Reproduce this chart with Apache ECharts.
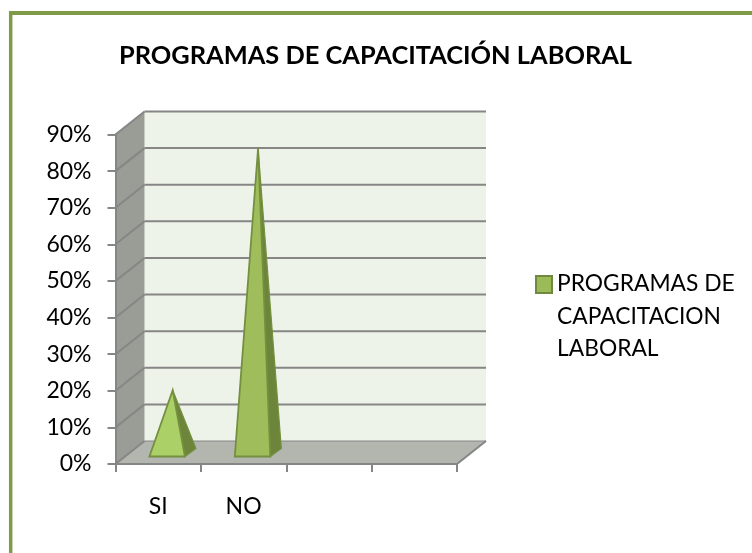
<!DOCTYPE html>
<html>
<head>
<meta charset="utf-8">
<style>html,body{margin:0;padding:0;background:#fff}#c{width:752px;height:553px}</style>
<script src="https://cdn.jsdelivr.net/npm/echarts@6/dist/echarts.min.js"></script>
</head>
<body>
<div id="c"></div>
<script>
var titleText = 'PROGRAMAS DE CAPACITACIÓN LABORAL';
var seriesName = 'PROGRAMAS DE\nCAPACITACION\nLABORAL';
var categories = ['SI', 'NO', '', ''];
var values = [0.17, 0.83];
var yTicks = [0, 0.1, 0.2, 0.3, 0.4, 0.5, 0.6, 0.7, 0.8, 0.9];

var FONT = 'Lato, "Open Sans", sans-serif';
var DX = 29, DY = -23;
var GRID = '#868686';
var FRONT = ['#ABD067', '#9FBE5B'];
var SIDE = '#6C853A', EDGE = '#74903F';

function poly(points, fill, stroke, lw) {
  return { type: 'polygon', shape: { points: points },
    style: { fill: fill, stroke: stroke || null, lineWidth: lw || 0 } };
}
function line(x1, y1, x2, y2, w) {
  return { type: 'line', shape: { x1: x1, y1: y1, x2: x2, y2: y2 },
    style: { stroke: GRID, lineWidth: w, fill: null } };
}
function renderWall(params, api) {
  var cs = params.coordSys;
  var y = api.coord([0, api.value(1)])[1];
  var x0 = cs.x, x1 = cs.x + cs.width;
  var kids = [];
  if (params.dataIndex === 0) {
    var top = cs.y;
    kids.push(poly([[x0 + DX, top + DY], [x1 + DX, top + DY], [x1 + DX, y + DY], [x0 + DX, y + DY]], '#EEF3E9'));
    kids.push(poly([[x0, top], [x0 + DX, top + DY], [x0 + DX, y + DY], [x0, y]], '#9A9C96'));
    kids.push(poly([[x0, y], [x0 + DX, y + DY], [x1 + DX, y + DY], [x1, y]], '#B3B5AF'));
    kids.push(line(x1, y, x1 + DX, y + DY, 2));
  }
  var first = params.dataIndex === 0;
  kids.push(line(x0 + DX, y + DY, x1 + DX, y + DY, first ? 1 : 2));
  kids.push(line(x0, y, x0 + DX, y + DY, 2));
  return { type: 'group', children: kids };
}
function renderPyramid(params, api) {
  var i = params.dataIndex;
  var base = api.coord([api.value(0), 0]);
  var tip = api.coord([api.value(0), api.value(1)]);
  var hw = api.size([1, 0])[0] * 0.208;
  var ox = DX / 2, oy = DY / 2;
  var dx = 5.5, dy = 4;
  var cx = base[0] + ox, cy = base[1] + oy;
  var fl = [cx - dx - hw, cy + dy], fr = [cx - dx + hw, cy + dy], br = [cx + dx + hw, cy - dy];
  var apex = [tip[0] + ox, tip[1] + oy];
  return { type: 'group', children: [
    poly([fr, br, apex], SIDE, EDGE, 1.2),
    poly([fl, fr, apex], FRONT[i], EDGE, 1.8)
  ] };
}

var chart = echarts.init(document.getElementById('c'), null, { renderer: 'canvas' });
chart.setOption({
  animation: false,
  backgroundColor: '#fff',
  graphic: [
    { type: 'line', shape: { x1: 9, y1: 13, x2: 752, y2: 13 }, style: { stroke: '#7F9B48', lineWidth: 4 }, z: 10 },
    { type: 'line', shape: { x1: 10.7, y1: 11, x2: 10.7, y2: 553 }, style: { stroke: '#7F9B48', lineWidth: 3.5 }, z: 10 }
  ],
  title: {
    text: titleText, left: 375.5, top: 43, padding: 0, textAlign: 'center',
    textStyle: { fontFamily: FONT, fontSize: 25.4, fontWeight: 'bold', color: '#000' }
  },
  legend: {
    data: [seriesName], left: 535, top: 267, orient: 'vertical', padding: 0,
    itemWidth: 16, itemHeight: 97, itemGap: 0,
    icon: 'path://M0 8H16V25H0Z M0 0L0 0 M0 97L0 97',
    textStyle: { fontFamily: FONT, fontSize: 22.8, color: '#000', lineHeight: 32.5 }
  },
  grid: { left: 115.5, right: 295, top: 134.5, bottom: 89 },
  xAxis: {
    type: 'category', data: categories, z: 5,
    axisLine: { show: true, lineStyle: { color: GRID, width: 2 } },
    axisTick: { show: true, alignWithLabel: false, inside: false, length: 8, lineStyle: { color: GRID, width: 2 } },
    axisLabel: { fontFamily: FONT, fontSize: 23, color: '#000', margin: 31, interval: 0 }
  },
  yAxis: {
    type: 'value', min: 0, max: 0.9, interval: 0.1, z: 5,
    axisLine: { show: true, lineStyle: { color: GRID, width: 2 } },
    axisTick: { show: true, inside: false, length: 8, lineStyle: { color: GRID, width: 2 } },
    splitLine: { show: false },
    axisLabel: { fontFamily: FONT, fontSize: 23, color: '#000', margin: 24, padding: [2, 0, 0, 0],
      formatter: function (v) { return Math.round(v * 100) + '%'; } }
  },
  series: [
    { type: 'custom', name: 'wall', silent: true, z: 1, renderItem: renderWall,
      data: yTicks.map(function (t) { return [0, t]; }) },
    { type: 'custom', name: seriesName, z: 3, renderItem: renderPyramid,
      itemStyle: { color: '#9BBB59', borderColor: '#71893F', borderWidth: 1.5 },
      data: values.map(function (v, i) { return [i, v]; }) }
  ]
});
</script>
</body>
</html>
